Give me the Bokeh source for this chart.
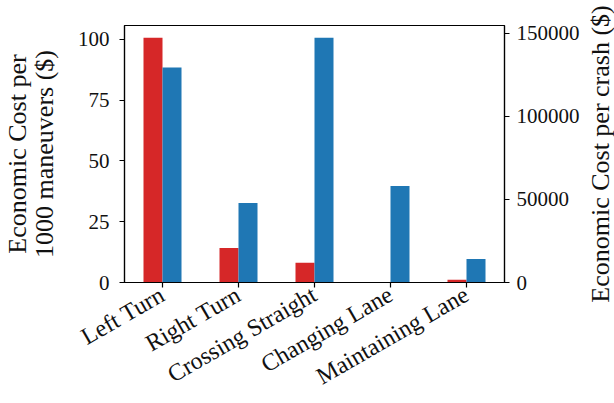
import math
from bokeh.plotting import figure
from bokeh.layouts import row
from bokeh.models import ColumnDataSource, FactorRange, Range1d, LinearAxis, FixedTicker
from bokeh.transform import dodge
from bokeh.embed import file_html
from bokeh.resources import INLINE

categories = ["Left Turn", "Right Turn", "Crossing Straight", "Changing Lane", "Maintaining Lane"]
cost_per_1000 = [100.7, 14.2, 8.1, 0.0, 1.1]
cost_per_crash = [129400, 47800, 147300, 58000, 14200]
left_ticks = [0, 25, 50, 75, 100]
right_ticks = [0, 50000, 100000, 150000]
left_title = "Economic Cost per\n1000 maneuvers ($)"
right_title = "Economic Cost per crash ($)"

RED = "#d62728"
BLUE = "#1f77b4"
INK = "#111111"
FONT = "Liberation Serif"
TICK_FS = "21px"
CAT_FS = "24px"
TITLE_FS = "26px"

src = ColumnDataSource(dict(cat=categories, red=cost_per_1000, blue=cost_per_crash))

p = figure(width=582, height=403, output_backend="svg", toolbar_location=None,
           x_range=FactorRange(*categories, range_padding=0, factor_padding=0),
           y_range=Range1d(0, max(cost_per_1000) * 1.05))
right_range = Range1d(0, max(cost_per_crash) * 1.05)
p.extra_y_ranges = {"right": right_range}
p.min_border_left = 122
p.min_border_right = 75
p.min_border_top = 25
p.min_border_bottom = 119
p.background_fill_color = "white"
p.border_fill_color = "white"
p.outline_line_color = "black"
p.outline_line_width = 1.2
p.grid.visible = False

p.vbar(x=dodge("cat", -0.125, range=p.x_range), top="red", width=0.25, source=src,
       fill_color=RED, line_color=None)
p.vbar(x=dodge("cat", 0.125, range=p.x_range), top="blue", width=0.25, source=src,
       fill_color=BLUE, line_color=None, y_range_name="right")

raxis = LinearAxis(y_range_name="right")
p.add_layout(raxis, "right")

p.yaxis[0].axis_label = left_title
p.yaxis[0].ticker = FixedTicker(ticks=left_ticks)
raxis.ticker = FixedTicker(ticks=right_ticks)
raxis.formatter.use_scientific = False

for ax in [p.xaxis[0], p.yaxis[0], raxis]:
    ax.major_label_text_font = FONT
    ax.major_label_text_font_size = TICK_FS
    ax.major_label_text_color = INK
    ax.axis_label_text_font = FONT
    ax.axis_label_text_font_size = TITLE_FS
    ax.axis_label_text_font_style = "normal"
    ax.axis_label_text_color = INK
    ax.major_tick_out = 5
    ax.major_tick_in = 0
    ax.minor_tick_out = 0
    ax.minor_tick_in = 0
    ax.axis_line_color = "black"
    ax.axis_line_width = 1.2
    ax.major_tick_line_width = 1.2

xa = p.xaxis[0]
xa.major_label_text_font_size = CAT_FS
xa.major_label_text_line_height = 1.0
xa.major_label_orientation = math.radians(30)
xa.major_label_standoff = 5

ya = p.yaxis[0]
ya.major_label_standoff = 10
ya.axis_label_standoff = 16
ya.axis_label_text_line_height = 0.93

raxis.major_label_standoff = 7

# narrow strip on the right whose (tickless) axis carries the right-hand title,
# so that it reads from bottom to top as in the reference
side = figure(width=32, height=403, output_backend="svg", toolbar_location=None,
              x_range=Range1d(0, 1), y_range=Range1d(0, 1),
              x_axis_type=None, y_axis_type=None, min_border=0)
side.min_border_left = 0
side.min_border_right = 0
side.outline_line_color = None
side.background_fill_color = "white"
side.border_fill_color = "white"
side.grid.visible = False
title_axis = LinearAxis(axis_label=right_title, ticker=FixedTicker(ticks=[]))
title_axis.axis_line_color = None
title_axis.major_tick_line_color = None
title_axis.minor_tick_line_color = None
title_axis.major_tick_out = 0
title_axis.minor_tick_out = 0
title_axis.major_label_standoff = 0
title_axis.axis_label_standoff = 0
title_axis.axis_label_text_font = FONT
title_axis.axis_label_text_font_size = TITLE_FS
title_axis.axis_label_text_font_style = "normal"
title_axis.axis_label_text_color = INK
side.add_layout(title_axis, "left")

layout = row(p, side)
open("out.html", "w").write(file_html(layout, INLINE))
